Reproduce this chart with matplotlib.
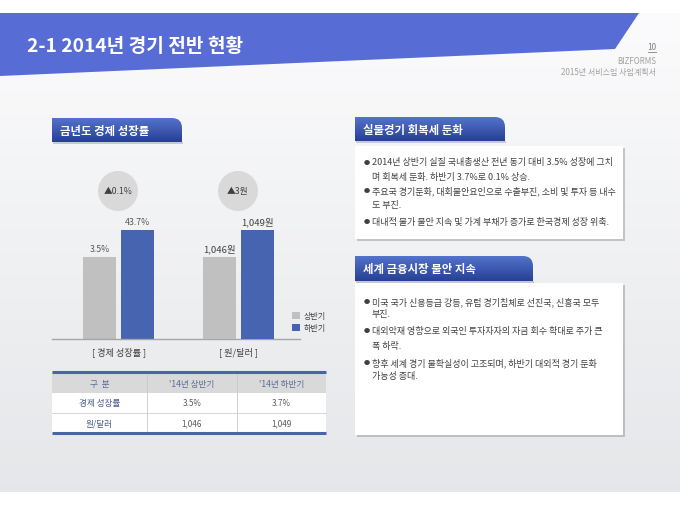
import numpy as np
import matplotlib
matplotlib.use("Agg")
import matplotlib.pyplot as plt
from matplotlib.patches import Polygon, Rectangle, Circle, PathPatch
from matplotlib.path import Path

plt.rcParams['font.family'] = ['Noto Sans CJK KR', 'DejaVu Sans']

# ---- data ----
series = ['상반기', '하반기']
categories = ['[ 경제 성장률 ]', '[ 원/달러 ]']
growth = [3.5, 3.7]
fx = [1046, 1049]
growth_labels = ['3.5%', '43.7%']
fx_labels = ['1,046원', '1,049원']
change_labels = ['▲0.1%', '▲3원']

table_header = ['구  분', "'14년 상반기", "'14년 하반기"]
table_rows = ['경제 성장률', '원/달러']

title = '2-1 2014년 경기 전반 현황'
left_tab = '금년도 경제 성장률'
box1_title = '실물경기 회복세 둔화'
box1_lines = [
    ('● ', '2014년 상반기 실질 국내총생산 전년 동기 대비 3.5% 성장에 그치'),
    ('', '며 회복세 둔화. 하반기 3.7%로 0.1% 상승.'),
    ('● ', '주요국 경기둔화, 대회불안요인으로 수출부진, 소비 및 투자 등 내수'),
    ('', '도 부진.'),
    ('● ', '대내적 물가 불안 지속 및 가계 부채가 증가로 한국경제 성장 위축.'),
]
box2_title = '세계 금융시장 불안 지속'
box2_lines = [
    ('● ', '미국 국가 신용등급 강등, 유럽 경기침체로 선진국, 신흥국 모두'),
    ('', '부진.'),
    ('● ', '대외악재 영향으로 외국인 투자자자의 자금 회수 확대로 주가 큰'),
    ('', '폭 하락.'),
    ('● ', '향후 세계 경기 불확실성이 고조되며, 하반기 대외적 경기 둔화'),
    ('', '가능성 증대.'),
]

colors = ['#C0C0C0', '#4664AF']
W, H = 680, 510

fig = plt.figure(figsize=(6.8, 5.1), dpi=100)
bg = fig.add_axes([0, 0, 1, 1], zorder=0)
bg.axis('off')

def reset_bg():
    bg.set_xlim(0, W)
    bg.set_ylim(H, 0)

# slide background gradient
grad = np.linspace(0, 1, 100)[:, None, None]
top_c = np.array([0.985, 0.985, 0.99])
bot_c = np.array([0.90, 0.905, 0.915])
bg.imshow(top_c * (1 - grad) + bot_c * grad, extent=(0, W, 493, 14),
          origin='upper', aspect='auto', zorder=0)
reset_bg()

# title banner
bg.add_patch(Polygon([(0, 14), (639, 14), (615, 50), (0, 77)], closed=True,
                     facecolor='#586CD6', edgecolor='none', zorder=1))
bg.text(27, 47, title, color='white', fontsize=13.8, fontweight='bold',
        va='center', ha='left', zorder=2)
bg.text(656, 48, '10', color='#808080', fontsize=6, ha='right', va='center', zorder=2)
bg.plot([648, 656], [53, 53], color='#808080', lw=0.6, zorder=2)
bg.text(656, 61, 'BIZFORMS', color='#A0A0A0', fontsize=5.8, ha='right', va='center', zorder=2)
bg.text(656, 72, '2015년 서비스업 사업계획서', color='#A0A0A0', fontsize=5.8,
        ha='right', va='center', zorder=2)


def tab(x0, x1, y0, y1, label, r=10):
    verts = [(x0, y1), (x0, y0), (x1 - r, y0), (x1, y0), (x1, y0 + r), (x1, y1), (x0, y1)]
    codes = [Path.MOVETO, Path.LINETO, Path.LINETO, Path.CURVE3, Path.CURVE3,
             Path.LINETO, Path.CLOSEPOLY]
    shadow = Rectangle((x0 + 1, y1), x1 - x0, 2, facecolor='#9AA0B0',
                       edgecolor='none', alpha=0.5, zorder=2)
    bg.add_patch(shadow)
    patch = PathPatch(Path(verts, codes), facecolor='none', edgecolor='none', zorder=3)
    bg.add_patch(patch)
    g = np.linspace(0, 1, 50)[:, None, None]
    c_top = np.array([0.33, 0.45, 0.80])
    c_bot = np.array([0.15, 0.25, 0.58])
    im = bg.imshow(c_top * (1 - g) + c_bot * g, extent=(x0, x1, y1, y0),
                   origin='upper', aspect='auto', zorder=3)
    im.set_clip_path(patch)
    bg.text(x0 + 8, (y0 + y1) / 2 + 0.5, label, color='white', fontsize=8.2,
            fontweight='bold', va='center', ha='left', zorder=4)
    reset_bg()


def panel(x0, x1, y0, y1, lines, line_y):
    bg.add_patch(Rectangle((x0 + 1.5, y0 + 2), x1 - x0, y1 - y0, facecolor='#8C8C8C',
                           edgecolor='none', alpha=0.45, zorder=2))
    bg.add_patch(Rectangle((x0, y0), x1 - x0, y1 - y0, facecolor='white',
                           edgecolor='none', zorder=2.5))
    for (bullet, txt), y in zip(lines, line_y):
        if bullet:
            bg.text(x0 + 9, y, '●', fontsize=4.5, color='#404040', va='center', zorder=4)
        bg.text(x0 + 17, y, txt, fontsize=6.5, color='#404040', va='center', zorder=4)


tab(52, 182, 119, 143, left_tab)
tab(355, 505, 118, 142, box1_title)
tab(355, 533, 257, 282, box2_title)
panel(355, 623, 147, 240, box1_lines, [163, 178, 191, 206, 222])
panel(355, 623, 284, 436, box2_lines, [302, 315, 331, 347, 363, 377])

# change circles
for cx, lab in zip([118, 238], change_labels):
    bg.add_patch(Circle((cx, 192), 20, facecolor='#D9D9D9', edgecolor='none', zorder=2))
    bg.text(cx, 192, lab, fontsize=6.3, color='#404040', ha='center', va='center', zorder=3)

# ---- bar chart (each group on its own value scale) ----
ax = fig.add_axes([52 / W, 1 - 340 / H, 248 / W, 190 / H], zorder=2)
ax2 = ax.twinx()
for a in (ax, ax2):
    a.patch.set_visible(False)
    for s in ('top', 'right', 'left'):
        a.spines[s].set_visible(False)
    a.set_yticks([])
ax2.spines['bottom'].set_visible(False)
ax.spines['bottom'].set_color('#A6A6A6')
ax.spines['bottom'].set_linewidth(1)

off, bw = 0.158, 0.275
offsets = [-off, off]


def limits(v):
    d = v[1] - v[0]
    lo = v[0] - 3.03 * d
    return lo, lo + (v[1] - lo) * 190 / 109


handles = []
for i in range(2):
    b = ax.bar(0 + offsets[i], growth[i], width=bw, color=colors[i], label=series[i])
    handles.append(b)
    ax.annotate(growth_labels[i], (0 + offsets[i], growth[i]), xytext=(0, 3),
                textcoords='offset points', ha='center', va='bottom',
                fontsize=6.3, color='#595959')
    ax2.bar(1 + offsets[i], fx[i], width=bw, color=colors[i])
    ax2.annotate(fx_labels[i], (1 + offsets[i], fx[i]), xytext=(0, 3),
                 textcoords='offset points', ha='center', va='bottom',
                 fontsize=6.8, color='#404040')

ax.set_ylim(*limits(growth))
ax2.set_ylim(*limits(fx))
ax.set_xlim(-0.556, 1.51)
ax.set_xticks([0, 1])
ax.set_xticklabels(categories, fontsize=6.6, color='#404040')
ax.tick_params(axis='x', length=0, pad=5)

ax.legend(handles=handles, loc='lower left', bbox_to_anchor=(288 / W, 1 - 337 / H),
          bbox_transform=fig.transFigure, frameon=False, fontsize=5.8,
          handlelength=1.0, handleheight=1.0, handletextpad=0.5, labelspacing=0.35,
          borderpad=0, labelcolor='#404040')

# ---- table ----
tx = [52, 147, 237, 326]
ty = [373, 394, 414, 434]
bg.add_patch(Rectangle((tx[0], ty[0]), tx[-1] - tx[0], ty[1] - ty[0],
                       facecolor='#D9D9D9', edgecolor='none', zorder=2))
bg.add_patch(Rectangle((tx[0], ty[1]), tx[-1] - tx[0], ty[-1] - ty[1],
                       facecolor='white', edgecolor='none', zorder=2))
for xv in tx[1:-1]:
    bg.plot([xv, xv], [ty[0], ty[-1]], color='#C8C8C8', lw=0.6, zorder=3)
bg.plot([tx[0], tx[-1]], [ty[2], ty[2]], color='#D0D0D0', lw=0.6, zorder=3)
bg.plot([tx[0], tx[-1]], [ty[0], ty[0]], color='#4A64A8', lw=2.2, zorder=4,
        solid_capstyle='butt')
bg.plot([tx[0], tx[-1]], [ty[-1], ty[-1]], color='#4A64A8', lw=2.2, zorder=4,
        solid_capstyle='butt')

cols_c = [(tx[j] + tx[j + 1]) / 2 for j in range(3)]
for j, h in enumerate(table_header):
    bg.text(cols_c[j], (ty[0] + ty[1]) / 2 + 1, h, fontsize=6.2, color='#5A6A9A',
            ha='center', va='center', zorder=4)
cells = [[f'{growth[0]:.1f}%', f'{growth[1]:.1f}%'],
         [f'{fx[0]:,}', f'{fx[1]:,}']]
for r, name in enumerate(table_rows):
    yc = (ty[r + 1] + ty[r + 2]) / 2
    bg.text(cols_c[0], yc, name, fontsize=6.2, color='#4A5A8A', ha='center',
            va='center', zorder=4)
    for j in range(2):
        bg.text(cols_c[j + 1], yc, cells[r][j], fontsize=5.8, color='#595959',
                ha='center', va='center', zorder=4)

reset_bg()
fig.savefig('out.png', dpi=100)
